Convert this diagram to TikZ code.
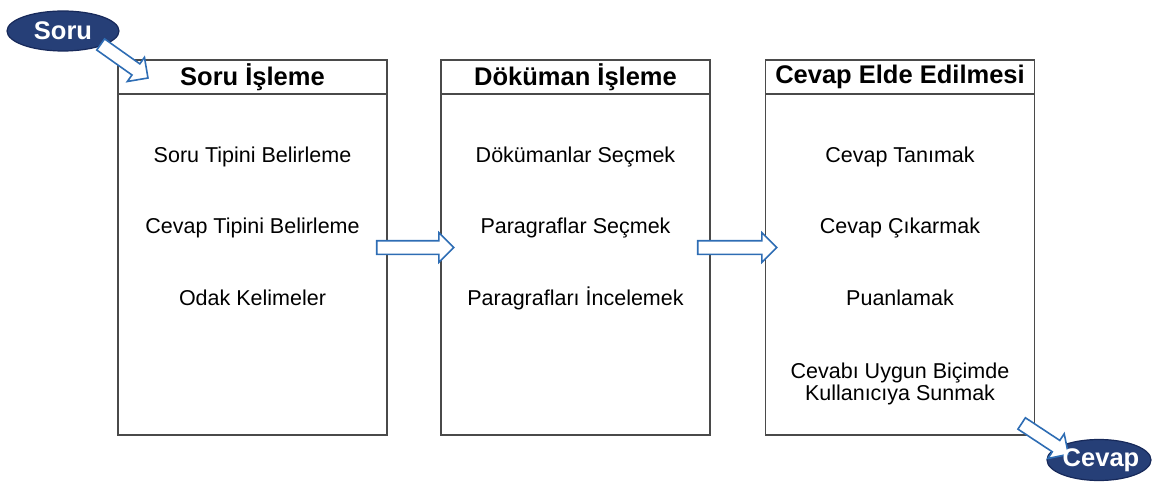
\documentclass[tikz,border=0pt]{standalone}
\usepackage{fontspec}
\setmainfont{Liberation Sans}
\usetikzlibrary{shapes.geometric, shapes.arrows}
\definecolor{ovalblue}{HTML}{263F77}
\definecolor{ovalline}{HTML}{17295A}
\definecolor{arrowblue}{HTML}{2E6DB4}
\definecolor{boxgray}{HTML}{4A4A4A}
\tikzset{
	stage/.style={draw=boxgray, line width=1.8pt, minimum width=269, minimum height=375, inner sep=0},
	stagetitle/.style={draw=boxgray, line width=1.8pt, minimum width=269, minimum height=34, inner sep=0, anchor=north, font=\fontsize{25.5}{27}\selectfont\bfseries},
	item/.style={align=center, font=\fontsize{21.5}{22}\selectfont},
	oval/.style={ellipse, draw=ovalline, line width=1.2pt, fill=ovalblue, inner sep=0},
	ovaltext/.style={text=white, inner sep=0, font=\fontsize{25.5}{27}\selectfont\bfseries},
	blockarrow/.style={single arrow, draw=arrowblue, fill=white, line width=1.6pt, inner xsep=0, inner ysep=6, minimum width=28, single arrow head extend=8, sloped, pos=0, anchor=tail}
}
\begin{document}
\begin{tikzpicture}[x=1pt, y=-1pt]
		\useasboundingbox (0,0) rectangle (1157,484);
		\node[stage] (soru box) at (252.5,247.5) {};
		\node[stage] (dokuman box) at (575.5,247.5) {};
		\node[stage] (cevap box) at (900,247.5) {};
		\node[stagetitle] (soru title) at (soru box.north) {Soru İşleme};
		\node[stagetitle] (dokuman title) at (dokuman box.north) {Döküman İşleme};
		\node[stagetitle] (cevap title) at (cevap box.north) {Cevap Elde Edilmesi};
		\node[item] (soru tipi) at (252.5,157) {Soru Tipini Belirleme};
		\node[item] (cevap tipi) at (252.5,228) {Cevap Tipini Belirleme};
		\node[item] (odak) at (252.5,298) {Odak Kelimeler};
		\node[item] (dokuman sec) at (575.5,157) {Dökümanlar Seçmek};
		\node[item] (paragraf sec) at (575.5,228) {Paragraflar Seçmek};
		\node[item] (paragraf incele) at (575.5,298) {Paragrafları İncelemek};
		\node[item] (tanima) at (900,157) {Cevap Tanımak};
		\node[item] (cikarma) at (900,228) {Cevap Çıkarmak};
		\node[item] (puanlama) at (900,298) {Puanlamak};
		\node[item] (sunma) at (900,384) {Cevabı Uygun Biçimde\\Kullanıcıya Sunmak};
		\node[oval, minimum width=112, minimum height=40] (soru) at (63,31) {};
		\node[oval, minimum width=104, minimum height=41] (cevap) at (1099,460) {};
		\coordinate (in tail) at (100,44);
		\coordinate (in tip) at (148,78);
		\coordinate (out tail) at (1021,423);
		\coordinate (out tip) at (1068,454);
		\path (in tail) -- node[blockarrow, minimum height=58] (in arrow) {} (in tip);
		\path ([xshift=-12]soru box.east) -- node[blockarrow, minimum height=77] (first arrow) {} ([xshift=12]dokuman box.west);
		\path ([xshift=-14]dokuman box.east) -- node[blockarrow, minimum height=79] (second arrow) {} ([xshift=12]cevap box.west);
		\path (out tail) -- node[blockarrow, minimum height=56] (out arrow) {} (out tip);
		\node[ovaltext] (soru label) at (soru) {Soru};
		\node[ovaltext] (cevap label) at ([xshift=2]cevap) {Cevap};
\end{tikzpicture}
\end{document}
